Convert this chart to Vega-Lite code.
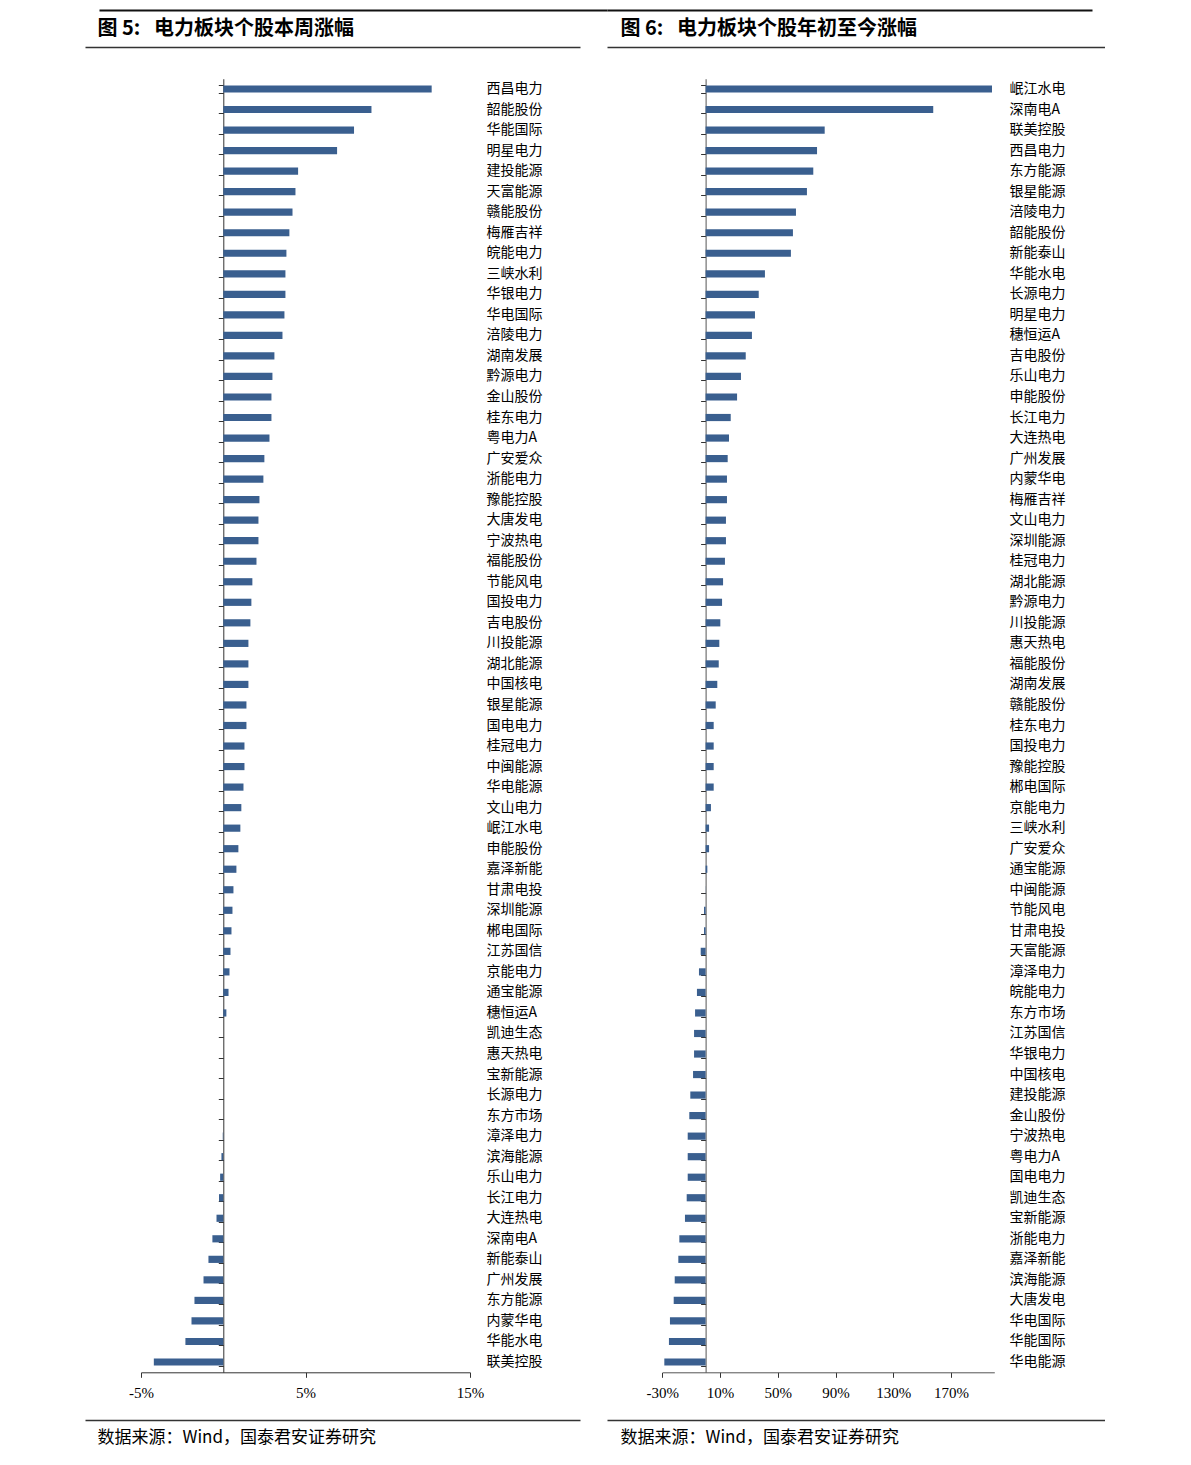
{
  "$schema": "https://vega.github.io/schema/vega-lite/v6.json",
  "background": "white",
  "padding": {"left": 85, "top": 10, "right": 0, "bottom": 12},
  "config": {"view": {"stroke": null}, "font": "Noto Sans CJK SC"},
  "datasets": {
    "week": [
      {"name": "西昌电力", "pct": 12.67}, {"name": "韶能股份", "pct": 9.01}, {"name": "华能国际", "pct": 7.95},
      {"name": "明星电力", "pct": 6.92}, {"name": "建投能源", "pct": 4.55}, {"name": "天富能源", "pct": 4.39},
      {"name": "赣能股份", "pct": 4.21}, {"name": "梅雁吉祥", "pct": 4.02}, {"name": "皖能电力", "pct": 3.84},
      {"name": "三峡水利", "pct": 3.78}, {"name": "华银电力", "pct": 3.78}, {"name": "华电国际", "pct": 3.72},
      {"name": "涪陵电力", "pct": 3.60}, {"name": "湖南发展", "pct": 3.11}, {"name": "黔源电力", "pct": 2.99},
      {"name": "金山股份", "pct": 2.93}, {"name": "桂东电力", "pct": 2.93}, {"name": "粤电力A", "pct": 2.81},
      {"name": "广安爱众", "pct": 2.50}, {"name": "浙能电力", "pct": 2.44}, {"name": "豫能控股", "pct": 2.20},
      {"name": "大唐发电", "pct": 2.14}, {"name": "宁波热电", "pct": 2.14}, {"name": "福能股份", "pct": 2.02},
      {"name": "节能风电", "pct": 1.77}, {"name": "国投电力", "pct": 1.71}, {"name": "吉电股份", "pct": 1.65},
      {"name": "川投能源", "pct": 1.53}, {"name": "湖北能源", "pct": 1.53}, {"name": "中国核电", "pct": 1.53},
      {"name": "银星能源", "pct": 1.41}, {"name": "国电电力", "pct": 1.41}, {"name": "桂冠电力", "pct": 1.29},
      {"name": "中闽能源", "pct": 1.29}, {"name": "华电能源", "pct": 1.23}, {"name": "文山电力", "pct": 1.10},
      {"name": "岷江水电", "pct": 1.04}, {"name": "申能股份", "pct": 0.92}, {"name": "嘉泽新能", "pct": 0.80},
      {"name": "甘肃电投", "pct": 0.62}, {"name": "深圳能源", "pct": 0.56}, {"name": "郴电国际", "pct": 0.50},
      {"name": "江苏国信", "pct": 0.44}, {"name": "京能电力", "pct": 0.38}, {"name": "通宝能源", "pct": 0.32},
      {"name": "穗恒运A", "pct": 0.19}, {"name": "凯迪生态", "pct": 0}, {"name": "惠天热电", "pct": 0},
      {"name": "宝新能源", "pct": 0}, {"name": "长源电力", "pct": 0}, {"name": "东方市场", "pct": 0},
      {"name": "漳泽电力", "pct": -0.03}, {"name": "滨海能源", "pct": -0.11}, {"name": "乐山电力", "pct": -0.19},
      {"name": "长江电力", "pct": -0.26}, {"name": "大连热电", "pct": -0.41}, {"name": "深南电A", "pct": -0.66},
      {"name": "新能泰山", "pct": -0.90}, {"name": "广州发展", "pct": -1.20}, {"name": "东方能源", "pct": -1.75},
      {"name": "内蒙华电", "pct": -1.93}, {"name": "华能水电", "pct": -2.30}, {"name": "联美控股", "pct": -4.22}
    ],
    "ytd": [
      {"name": "岷江水电", "pct": 198.4}, {"name": "深南电A", "pct": 157.7}, {"name": "联美控股", "pct": 82.5},
      {"name": "西昌电力", "pct": 77.2}, {"name": "东方能源", "pct": 74.6}, {"name": "银星能源", "pct": 70.2},
      {"name": "涪陵电力", "pct": 62.6}, {"name": "韶能股份", "pct": 60.5}, {"name": "新能泰山", "pct": 59.1},
      {"name": "华能水电", "pct": 41.1}, {"name": "长源电力", "pct": 36.8}, {"name": "明星电力", "pct": 34.2},
      {"name": "穗恒运A", "pct": 32.1}, {"name": "吉电股份", "pct": 27.8}, {"name": "乐山电力", "pct": 24.5},
      {"name": "申能股份", "pct": 21.8}, {"name": "长江电力", "pct": 17.4}, {"name": "大连热电", "pct": 16.2},
      {"name": "广州发展", "pct": 15.3}, {"name": "内蒙华电", "pct": 14.8}, {"name": "梅雁吉祥", "pct": 14.8},
      {"name": "文山电力", "pct": 14.1}, {"name": "深圳能源", "pct": 14.1}, {"name": "桂冠电力", "pct": 13.4},
      {"name": "湖北能源", "pct": 12.1}, {"name": "黔源电力", "pct": 11.4}, {"name": "川投能源", "pct": 10.2},
      {"name": "惠天热电", "pct": 9.5}, {"name": "福能股份", "pct": 9.1}, {"name": "湖南发展", "pct": 8.1},
      {"name": "赣能股份", "pct": 7.0}, {"name": "桂东电力", "pct": 5.6}, {"name": "国投电力", "pct": 5.6},
      {"name": "豫能控股", "pct": 5.6}, {"name": "郴电国际", "pct": 5.6}, {"name": "京能电力", "pct": 3.7},
      {"name": "三峡水利", "pct": 2.4}, {"name": "广安爱众", "pct": 2.4}, {"name": "通宝能源", "pct": 1.2},
      {"name": "中闽能源", "pct": 0.1}, {"name": "节能风电", "pct": -1.1}, {"name": "甘肃电投", "pct": -1.1},
      {"name": "天富能源", "pct": -3.4}, {"name": "漳泽电力", "pct": -4.6}, {"name": "皖能电力", "pct": -6.0},
      {"name": "东方市场", "pct": -7.3}, {"name": "江苏国信", "pct": -8.0}, {"name": "华银电力", "pct": -8.0},
      {"name": "中国核电", "pct": -8.7}, {"name": "建投能源", "pct": -10.6}, {"name": "金山股份", "pct": -11.3},
      {"name": "宁波热电", "pct": -12.4}, {"name": "粤电力A", "pct": -12.4}, {"name": "国电电力", "pct": -12.4},
      {"name": "凯迪生态", "pct": -13.1}, {"name": "宝新能源", "pct": -14.3}, {"name": "浙能电力", "pct": -18.2},
      {"name": "嘉泽新能", "pct": -18.9}, {"name": "滨海能源", "pct": -21.4}, {"name": "大唐发电", "pct": -22.1},
      {"name": "华电国际", "pct": -24.7}, {"name": "华能国际", "pct": -25.4}, {"name": "华电能源", "pct": -28.6}
    ]
  },
  "spacing": 27,
  "bounds": "flush",
  "hconcat": [
    {
      "data": {"name": "week"},
      "width": 495,
      "height": 1373,
      "resolve": {"scale": {"x": "independent"}, "axis": {"x": "independent", "y": "independent"}},
      "layer": [
        {
          "mark": {"type": "bar", "color": "#3a5f8f"},
          "encoding": {
            "x": {"field": "pct", "type": "quantitative", "scale": {"domain": [-5, 15], "range": [56, 385], "nice": false, "zero": false},
              "axis": {"orient": "bottom", "offset": -47.7, "values": [-5, 5, 15], "labelExpr": "datum.value + '%'", "labelFlush": false, "labelFont": "Liberation Serif", "labelFontSize": 15, "labelColor": "#000", "labelPadding": 8, "tickSize": 5, "tickColor": "#333", "domainColor": "#333", "grid": false, "title": null}},
            "y": {"field": "name", "type": "nominal", "sort": null, "scale": {"range": [31.73, 1325.27], "paddingInner": 0.65, "paddingOuter": 0.325},
              "axis": {"orient": "left", "offset": -138.3, "labels": false, "ticks": true, "tickBand": "extent", "tickSize": 5, "tickColor": "#333", "domainColor": "#333", "title": null, "grid": false}}
          }
        },
        {
          "mark": {"type": "bar", "opacity": 0},
          "encoding": {
            "x": {"field": "pct", "type": "quantitative", "scale": {"domain": [-5, 15], "range": [56, 385], "nice": false, "zero": false}, "axis": null},
            "y": {"field": "name", "type": "nominal", "sort": null,
              "axis": {"orient": "right", "offset": -94, "domain": false, "ticks": false, "labelAlign": "left", "labelBaseline": "middle", "labelPadding": 0, "labelFont": "Noto Sans CJK SC", "labelFontSize": 14, "labelColor": "#000", "title": null, "grid": false}}
          }
        },
        {
          "mark": {"type": "rule", "opacity": 0},
          "encoding": {
            "x": {"datum": 0.5, "type": "quantitative", "scale": {"domain": [0, 1]},
              "axis": {"orient": "top", "domain": true, "domainColor": "#333", "domainWidth": 1.3, "ticks": false, "labels": false, "grid": false,
                "title": "图 5:\u00a0\u00a0 电力板块个股本周涨幅", "titleX": 12, "titleY": -19, "titleAlign": "left", "titleBaseline": "middle", "titleFont": "Noto Sans CJK SC", "titleFontSize": 20, "titleFontWeight": "bold", "titleColor": "#000"}}
          }
        },
        {
          "mark": {"type": "rule", "opacity": 0},
          "encoding": {
            "x": {"datum": 0.5, "type": "quantitative", "scale": {"domain": [0, 1]},
              "axis": {"orient": "bottom", "domain": true, "domainColor": "#333", "domainWidth": 1.3, "ticks": false, "labels": false, "grid": false,
                "title": "数据来源：Wind，国泰君安证券研究", "titleX": 12, "titleY": 17, "titleAlign": "left", "titleBaseline": "middle", "titleFont": "Noto Sans CJK SC", "titleFontSize": 17, "titleFontWeight": "normal", "titleColor": "#000"}}
          }
        },
        {
          "mark": {"type": "rule", "opacity": 0},
          "encoding": {
            "x": {"datum": 0.5, "type": "quantitative", "scale": {"domain": [0, 1], "range": [14, 522]},
              "axis": {"orient": "top", "offset": 37, "domain": true, "domainColor": "#111", "domainWidth": 2, "ticks": false, "labels": false, "grid": false, "title": null}}
          }
        }
      ]
    },
    {
      "data": {"name": "ytd"},
      "width": 498,
      "height": 1373,
      "resolve": {"scale": {"x": "independent"}, "axis": {"x": "independent", "y": "independent"}},
      "layer": [
        {
          "mark": {"type": "bar", "color": "#3a5f8f"},
          "encoding": {
            "x": {"field": "pct", "type": "quantitative", "scale": {"domain": [-30, 200], "range": [55.3, 387.3], "nice": false, "zero": false},
              "axis": {"orient": "bottom", "offset": -47.7, "values": [-30, 10, 50, 90, 130, 170], "labelExpr": "datum.value + '%'", "labelFlush": false, "labelFont": "Liberation Serif", "labelFontSize": 15, "labelColor": "#000", "labelPadding": 8, "tickSize": 5, "tickColor": "#333", "domainColor": "#555", "grid": false, "title": null}},
            "y": {"field": "name", "type": "nominal", "sort": null, "scale": {"range": [31.73, 1325.27], "paddingInner": 0.65, "paddingOuter": 0.325},
              "axis": {"orient": "left", "offset": -98.6, "labels": false, "ticks": true, "tickBand": "extent", "tickSize": 5, "tickColor": "#333", "domainColor": "#555", "title": null, "grid": false}}
          }
        },
        {
          "mark": {"type": "bar", "opacity": 0},
          "encoding": {
            "x": {"field": "pct", "type": "quantitative", "scale": {"domain": [-30, 200], "range": [55.3, 387.3], "nice": false, "zero": false}, "axis": null},
            "y": {"field": "name", "type": "nominal", "sort": null,
              "axis": {"orient": "right", "offset": -96, "domain": false, "ticks": false, "labelAlign": "left", "labelBaseline": "middle", "labelPadding": 0, "labelFont": "Noto Sans CJK SC", "labelFontSize": 14, "labelColor": "#000", "title": null, "grid": false}}
          }
        },
        {
          "mark": {"type": "rule", "opacity": 0},
          "encoding": {
            "x": {"datum": 0.5, "type": "quantitative", "scale": {"domain": [0, 1]},
              "axis": {"orient": "top", "domain": true, "domainColor": "#333", "domainWidth": 1.3, "ticks": false, "labels": false, "grid": false,
                "title": "图 6:\u00a0\u00a0 电力板块个股年初至今涨幅", "titleX": 13, "titleY": -19, "titleAlign": "left", "titleBaseline": "middle", "titleFont": "Noto Sans CJK SC", "titleFontSize": 20, "titleFontWeight": "bold", "titleColor": "#000"}}
          }
        },
        {
          "mark": {"type": "rule", "opacity": 0},
          "encoding": {
            "x": {"datum": 0.5, "type": "quantitative", "scale": {"domain": [0, 1]},
              "axis": {"orient": "bottom", "domain": true, "domainColor": "#333", "domainWidth": 1.3, "ticks": false, "labels": false, "grid": false,
                "title": "数据来源：Wind，国泰君安证券研究", "titleX": 13, "titleY": 17, "titleAlign": "left", "titleBaseline": "middle", "titleFont": "Noto Sans CJK SC", "titleFontSize": 17, "titleFontWeight": "normal", "titleColor": "#000"}}
          }
        },
        {
          "mark": {"type": "rule", "opacity": 0},
          "encoding": {
            "x": {"datum": 0.5, "type": "quantitative", "scale": {"domain": [0, 1], "range": [0, 485]},
              "axis": {"orient": "top", "offset": 37, "domain": true, "domainColor": "#111", "domainWidth": 2, "ticks": false, "labels": false, "grid": false, "title": null}}
          }
        }
      ]
    }
  ]
}
